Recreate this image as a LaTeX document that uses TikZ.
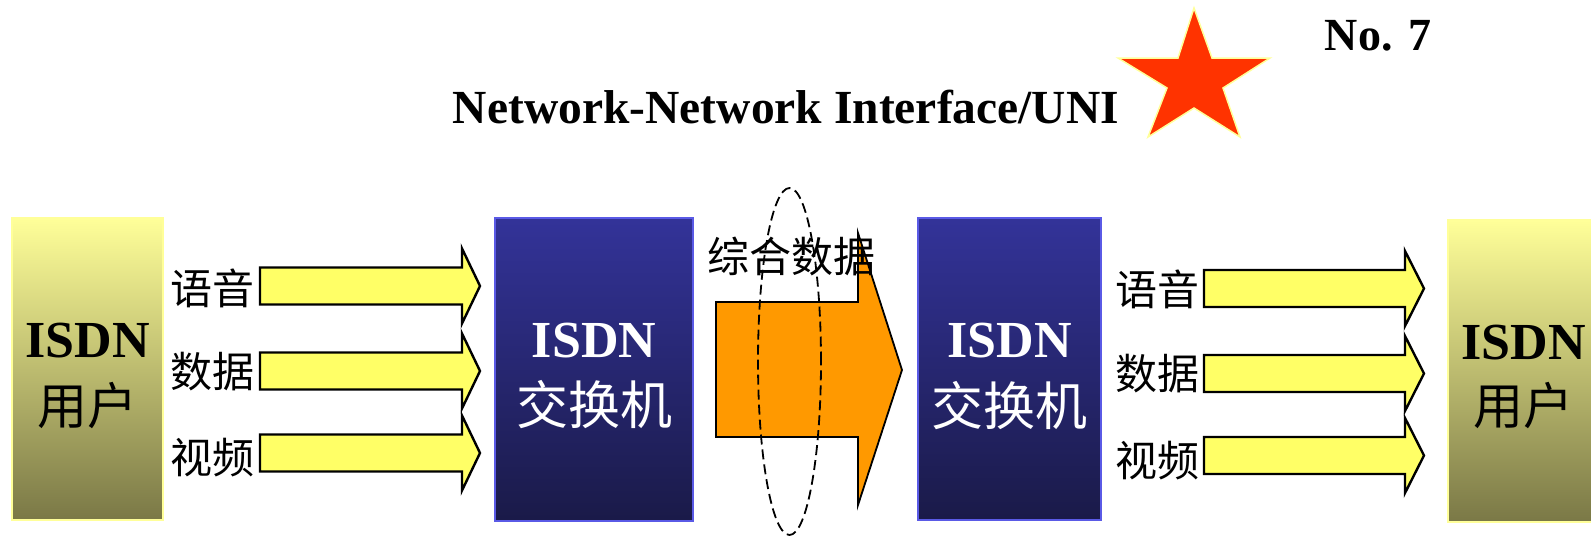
\documentclass[tikz,border=0pt]{standalone}
\usepackage{fontspec}
\setmainfont{Liberation Serif}
\newfontfamily\cjk{Noto Sans CJK SC}
\definecolor{ulight}{RGB}{255,255,153}
\definecolor{udark}{RGB}{122,120,70}
\definecolor{stop}{RGB}{51,51,153}
\definecolor{sbot}{RGB}{26,26,72}
\definecolor{sborder}{RGB}{90,90,230}
\definecolor{yfill}{RGB}{255,255,102}
\definecolor{ofill}{RGB}{255,153,0}
\definecolor{starred}{RGB}{255,51,0}
\newcommand\yarr[4]{\draw[yarrow] (#1,{#4-18.5}) -- (#2,{#4-18.5}) -- (#2,{#4-37.5}) -- (#3,#4) -- (#2,{#4+37.5}) -- (#2,{#4+18.5}) -- (#1,{#4+18.5}) -- cycle;}
\begin{document}
\begin{tikzpicture}[x=1pt,y=-1pt,
  userbox/.style={draw=ulight,line width=1.5pt,top color=ulight,bottom color=udark,inner sep=0pt},
  switchbox/.style={draw=sborder,line width=1.8pt,top color=stop,bottom color=sbot,inner sep=0pt},
  isdntxt/.style={inner sep=0pt,anchor=base,font=\fontsize{52}{60}\selectfont\bfseries},
  bigcjk/.style={inner sep=0pt,font=\fontsize{50}{58}\selectfont\cjk},
  lblcjk/.style={inner sep=0pt,font=\fontsize{42}{48}\selectfont\cjk},
  yarrow/.style={draw=black,line width=2.4pt,fill=yfill,line join=miter},
  titletxt/.style={inner sep=0pt,anchor=base,font=\fontsize{47.5}{54}\selectfont\bfseries}]
\useasboundingbox (0,0) rectangle (1591,536);
\clip (0,0) rectangle (1591,536);
% title and number
\node[titletxt] (title) at (786,123) {Network-Network Interface/UNI};
\node[titletxt,font=\fontsize{46}{54}\selectfont\bfseries] (no) at (1378,50) {No. 7};
% star
\draw[fill=starred,draw=ulight,line width=1.5pt,line join=miter]
  (1194,8) -- (1212,58) -- (1270,58) -- (1223,88) -- (1240,137) -- (1194,108)
  -- (1148,137) -- (1167,88) -- (1118,58) -- (1178,58) -- cycle;
% left user
\node[userbox,minimum width=151pt,minimum height=302pt] (u1) at (87.5,369) {};
\node[isdntxt] (u1a) at (87.5,357) {ISDN};
\node[bigcjk] (u1b) at (87.5,406) {用户};
% left labels and arrows
\node[lblcjk] (l1) at (212,288) {语音};
\node[lblcjk] (l2) at (212,372) {数据};
\node[lblcjk] (l3) at (212,458) {视频};
\yarr{260}{462}{480}{286}
\yarr{260}{462}{480}{371}
\yarr{260}{462}{480}{453}
% left switch
\node[switchbox,minimum width=198pt,minimum height=303pt] (s1) at (594,369.5) {};
\node[isdntxt,text=white] (s1a) at (594,357) {ISDN};
\node[bigcjk,text=white,font=\fontsize{52}{60}\selectfont\cjk] (s1b) at (594,405) {交换机};
% orange arrow
\draw[draw=black,line width=1.8pt,fill=ofill,line join=miter]
  (716,302) -- (858,302) -- (858,233) -- (902,370) -- (858,505) -- (858,437) -- (716,437) -- cycle;
\node[lblcjk,font=\fontsize{42}{48}\selectfont\cjk] (mix) at (791.5,256) {综合数据};
\draw[dash pattern=on 10pt off 5pt,line width=1.8pt] (789.5,361.5) ellipse [x radius=31.5pt,y radius=173.5pt];
% right switch
\node[switchbox,minimum width=183pt,minimum height=302pt] (s2) at (1009.5,369) {};
\node[isdntxt,text=white] (s2a) at (1009.5,357) {ISDN};
\node[bigcjk,text=white,font=\fontsize{52}{60}\selectfont\cjk] (s2b) at (1009.5,406) {交换机};
% right labels and arrows
\node[lblcjk] (r1) at (1157,289) {语音};
\node[lblcjk] (r2) at (1157,374) {数据};
\node[lblcjk] (r3) at (1157,461) {视频};
\yarr{1204}{1405}{1424}{288.5}
\yarr{1204}{1405}{1424}{373.5}
\yarr{1204}{1405}{1424}{455.5}
% right user
\node[userbox,minimum width=151pt,minimum height=302pt] (u2) at (1523.5,371) {};
\node[isdntxt] (u2a) at (1523.5,359) {ISDN};
\node[bigcjk] (u2b) at (1523.5,406) {用户};
\end{tikzpicture}
\end{document}
